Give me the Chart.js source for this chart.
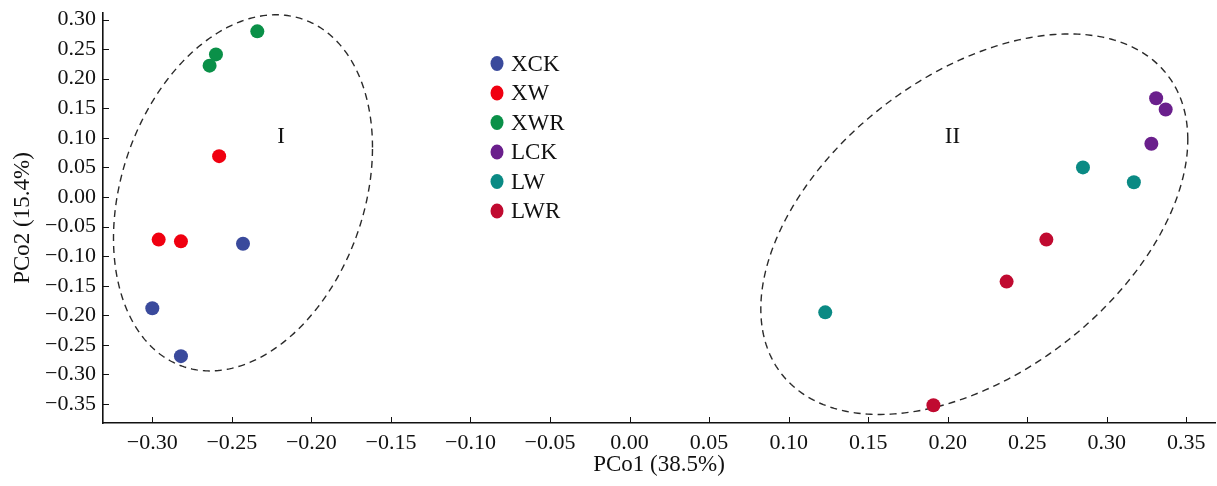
<!DOCTYPE html>
<html>
<head>
<meta charset="utf-8">
<script src="https://cdn.jsdelivr.net/npm/chart.js@4"></script>
<style>
html,body{margin:0;padding:0;background:#fff;overflow:hidden;}
#wrap{width:1217px;height:486px;position:relative;}
</style>
</head>
<body>
<div id="wrap"><canvas id="c"></canvas></div>
<script>
// ---- data ----
const groupNames = ["XCK", "XW", "XWR", "LCK", "LW", "LWR"];
const groupColors = ["#3a4a9c", "#f00010", "#0a9048", "#6a1f8c", "#0a8a84", "#c00a30"];
const XCK = [[-0.243, -0.079], [-0.300, -0.188], [-0.282, -0.269]];
const XW  = [[-0.258, 0.069], [-0.296, -0.072], [-0.282, -0.075]];
const XWR = [[-0.234, 0.280], [-0.260, 0.241], [-0.264, 0.222]];
const LCK = [[0.331, 0.167], [0.337, 0.148], [0.328, 0.090]];
const LW  = [[0.285, 0.050], [0.317, 0.025], [0.123, -0.195]];
const LWR = [[0.262, -0.072], [0.237, -0.143], [0.191, -0.352]];
const xTicks = [-0.30, -0.25, -0.20, -0.15, -0.10, -0.05, 0.00, 0.05, 0.10, 0.15, 0.20, 0.25, 0.30, 0.35];
const yTicks = [-0.35, -0.30, -0.25, -0.20, -0.15, -0.10, -0.05, 0.00, 0.05, 0.10, 0.15, 0.20, 0.25, 0.30];
// ellipses: center x, center y, half-width x, half-height y, correlation
const ellipseI  = [-0.243, 0.007, 0.0814, 0.301, 0.255];
const ellipseII = [0.2167, -0.046, 0.1342, 0.3216, 0.445];
const clusterLabels = [["I", -0.219, 0.102], ["II", 0.203, 0.102]];
const xTitle = "PCo1 (38.5%)";
const yTitle = "PCo2 (15.4%)";

const seriesData = [XCK, XW, XWR, LCK, LW, LWR];
const FONT = "'Liberation Serif', 'Times New Roman', serif";

function fmt(v) {
  const s = Math.abs(v).toFixed(2);
  return (v < -1e-9 ? "\u2212" : "") + s;
}

function zeroPad(s) {
  s.paddingLeft = 0; s.paddingRight = 0; s.paddingTop = 0; s.paddingBottom = 0;
}

const datasets = groupNames.map((n, i) => ({
  label: n,
  data: seriesData[i].map(p => ({x: p[0], y: p[1]})),
  backgroundColor: groupColors[i],
  borderColor: groupColors[i],
  pointRadius: 7,
  pointHoverRadius: 7,
  borderWidth: 0,
  showLine: false
}));

const overlay = {
  id: 'overlay',
  beforeDatasetsDraw(chart) {
    const ctx = chart.ctx, xs = chart.scales.x, ys = chart.scales.y;
    ctx.save();
    [ellipseI, ellipseII].forEach(e => {
      const [cx, cy, rx, ry, rho] = e;
      const phi = Math.acos(rho);
      ctx.beginPath();
      for (let k = 0; k <= 360; k++) {
        const t = k * Math.PI / 180;
        const px = xs.getPixelForValue(cx + rx * Math.cos(t));
        const py = ys.getPixelForValue(cy + ry * Math.cos(t - phi));
        if (k === 0) ctx.moveTo(px, py); else ctx.lineTo(px, py);
      }
      ctx.setLineDash([7, 5]);
      ctx.lineWidth = 1.4;
      ctx.strokeStyle = '#2a2a2a';
      ctx.stroke();
    });
    ctx.setLineDash([]);
    ctx.fillStyle = '#111';
    ctx.font = "23px " + FONT;
    ctx.textAlign = 'center';
    ctx.textBaseline = 'middle';
    clusterLabels.forEach(l => {
      ctx.fillText(l[0], xs.getPixelForValue(l[1]), ys.getPixelForValue(l[2]));
    });
    ctx.restore();
  },
  afterDraw(chart) {
    const ctx = chart.ctx, xs = chart.scales.x, ys = chart.scales.y;
    const ca = chart.chartArea;
    ctx.save();
    ctx.strokeStyle = '#111';
    ctx.lineWidth = 1;
    xTicks.forEach(v => {
      const px = Math.round(xs.getPixelForValue(v)) + 0.5;
      ctx.beginPath(); ctx.moveTo(px, ca.bottom); ctx.lineTo(px, ca.bottom - 6); ctx.stroke();
    });
    yTicks.forEach(v => {
      const py = Math.round(ys.getPixelForValue(v)) + 0.5;
      ctx.beginPath(); ctx.moveTo(ca.left, py); ctx.lineTo(ca.left + 6, py); ctx.stroke();
    });
    // legend
    ctx.font = "23px " + FONT;
    ctx.textAlign = 'left';
    ctx.textBaseline = 'middle';
    const lx = 497, ly0 = 63.5, dy = 29.5;
    chart.data.datasets.forEach((d, i) => {
      const y = ly0 + i * dy;
      ctx.beginPath();
      ctx.ellipse(lx, y, 6.5, 7.5, 0, 0, Math.PI * 2);
      ctx.fillStyle = d.backgroundColor;
      ctx.fill();
      ctx.fillStyle = '#111';
      ctx.fillText(d.label, lx + 14, y + 1);
    });
    ctx.restore();
  }
};

new Chart(document.getElementById('c'), {
  type: 'scatter',
  data: { datasets },
  plugins: [overlay],
  options: {
    responsive: true,
    maintainAspectRatio: false,
    animation: false,
    layout: { autoPadding: false, padding: { top: 13, right: 2, left: 0, bottom: 0 } },
    plugins: { legend: { display: false }, tooltip: { enabled: false } },
    scales: {
      x: {
        type: 'linear',
        min: -0.331, max: 0.368,
        afterBuildTicks: s => { s.ticks = xTicks.map(v => ({value: v})); },
        afterFit: s => { s.height = 63; zeroPad(s); },
        grid: { display: false, drawTicks: false },
        border: { display: true, color: '#111', width: 1.6 },
        ticks: { color: '#111', font: { family: FONT, size: 22 }, padding: 7, maxRotation: 0, autoSkip: false, callback: v => fmt(v) },
        title: { display: true, text: xTitle, color: '#111', font: { family: FONT, size: 23 }, padding: { top: 0, bottom: 7 } }
      },
      y: {
        type: 'linear',
        min: -0.382, max: 0.311,
        afterBuildTicks: s => { s.ticks = yTicks.map(v => ({value: v})); },
        afterFit: s => { s.width = 103; zeroPad(s); },
        grid: { display: false, drawTicks: false },
        border: { display: true, color: '#111', width: 1.6 },
        ticks: { color: '#111', font: { family: FONT, size: 22 }, padding: 7, autoSkip: false, callback: v => fmt(v) },
        title: { display: true, text: yTitle, color: '#111', font: { family: FONT, size: 23 }, padding: { top: 9, bottom: 0 } }
      }
    }
  }
});
</script>
</body>
</html>
